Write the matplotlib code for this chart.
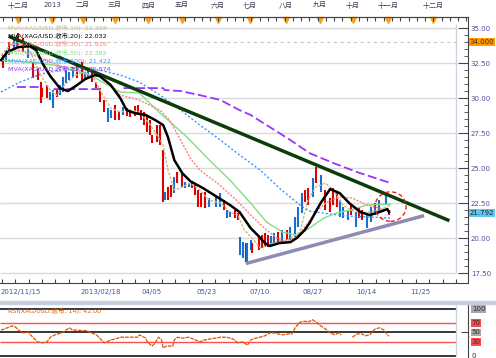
import matplotlib.pyplot as plt
import numpy as np
from matplotlib.patches import Ellipse, Rectangle
from matplotlib.transforms import blended_transform_factory

W, H = 496, 358
FONT = ['DejaVu Sans', 'Noto Sans CJK SC']
plt.rcParams['font.family'] = FONT

# ---- price bars (bar index, high, low, u=up / d=down)
bar_x = [1, 3, 5, 8, 10, 11, 14, 17, 20, 23, 25, 26, 29, 31, 33, 35, 37, 39, 41, 43,
         45, 48, 51, 53, 55, 57, 60, 62, 65, 67, 69, 72, 74, 77, 79, 81, 84, 86, 88, 90,
         92, 94, 95, 98, 100, 102, 103, 105, 107, 109, 111, 114, 116, 118, 120, 122, 124, 126, 128, 131,
         135, 138, 140, 142, 144, 147, 149, 150, 152, 154, 155, 157, 158, 162, 164, 166, 168, 170, 172, 174,
         177, 180, 182, 185, 187, 189, 191, 193, 196, 198, 201, 204, 207, 209, 211, 213, 215, 218, 220, 223,
         225, 227, 230, 233, 235, 238, 242, 244]
bar_hi = [33.07, 33.43, 34.0, 34.29, 34.5, 34.64, 34.29, 33.79, 32.57, 32.14,
          31.14, 30.71, 30.93, 30.43, 30.57, 30.57, 30.93, 31.5, 32.0, 31.86,
          32.21, 32.36, 32.57, 31.86, 32.14, 31.86, 31.14, 30.71, 29.86, 29.29,
          29.14, 29.5, 29.0, 29.36, 29.29, 29.14, 29.43, 29.5, 29.14, 29.0,
          28.79, 28.43, 27.36, 28.07, 28.07, 26.29, 23.29, 23.64, 23.79, 24.36,
          24.71, 24.64, 24.0, 23.93, 24.0, 23.79, 23.43, 23.21, 23.29, 22.86,
          22.93, 23.21, 22.71, 22.0, 21.86, 22.0, 21.79, 20.07, 19.71, 19.64,
          19.64, 19.86, 19.64, 20.07, 20.21, 20.36, 20.21, 20.14, 20.36, 20.43,
          20.57, 20.57, 20.79, 21.5, 22.21, 23.21, 23.43, 23.57, 24.29, 25.07,
          24.5, 23.43, 22.86, 23.57, 23.21, 22.71, 22.21, 22.0, 22.36, 21.86,
          22.14, 22.0, 21.64, 22.21, 22.5, 22.71, 23.07, 22.0]
bar_lo = [32.14, 32.57, 33.07, 33.43, 33.57, 33.79, 33.29, 32.86, 31.43, 31.29,
          29.64, 30.07, 30.0, 29.86, 29.29, 30.07, 30.21, 30.43, 31.07, 31.29,
          31.5, 31.43, 31.14, 31.43, 31.43, 31.14, 30.71, 29.71, 29.0, 28.29,
          28.57, 28.43, 28.43, 28.79, 28.71, 28.64, 28.71, 28.79, 28.43, 28.07,
          27.57, 27.36, 26.79, 26.86, 26.64, 22.57, 22.71, 22.71, 22.93, 23.21,
          23.93, 23.64, 23.57, 23.64, 23.57, 23.07, 22.21, 22.21, 22.14, 22.21,
          22.21, 22.21, 22.0, 21.43, 21.5, 21.43, 21.29, 18.79, 18.57, 18.29,
          18.29, 19.14, 18.93, 19.14, 19.29, 19.36, 19.36, 19.5, 19.64, 19.71,
          19.71, 19.86, 19.86, 20.07, 20.79, 21.79, 22.57, 22.36, 22.93, 23.93,
          23.29, 22.0, 21.86, 22.36, 22.21, 21.5, 21.43, 21.29, 21.64, 20.79,
          21.43, 21.29, 20.71, 21.14, 21.64, 21.86, 22.36, 21.64]
bar_dir = ("duduuddudd" "ddduuduuuu" "udduuddddu" "uddudddddd" "dddddduddu"
           "dduudddddu" "uuduudduud" "uuddddduud" "uduuuuddud" "udddduuudu" "dduuuuud")

# ---- moving averages (bar index, value)
ma10_x = [0, 6, 12, 18, 25, 31, 35, 40, 47, 53, 59, 64, 69, 75, 81, 87, 94, 98, 102, 105,
          109, 114, 119, 125, 131, 138, 144, 149, 153, 159, 163, 171, 180, 188, 193, 198, 204, 209, 215, 220,
          226, 232, 238, 245]
ma10_y = [33.07, 33.79, 34.0, 33.43, 31.64, 30.57, 30.21, 30.93, 31.64, 31.86,
          31.29, 30.21, 29.29, 29.0, 29.14, 29.0, 28.07, 27.36, 26.64, 24.86,
          23.43, 23.64, 23.93, 23.43, 22.71, 22.5, 21.86, 21.64, 20.57, 19.86,
          19.29, 19.64, 19.86, 20.43, 22.71, 23.64, 23.93, 23.43, 22.36, 22.0,
          21.79, 21.86, 22.0, 22.36]
ma20_x = [0, 4, 11, 18, 22, 26, 31, 37, 42, 47, 53, 59, 62, 69, 75, 79, 84, 91, 97, 102,
          105, 109, 114, 119, 127, 136, 144, 150, 157, 162, 166, 169, 175, 182, 186, 191, 194, 201, 207, 213,
          219, 226, 232, 238, 243, 244]
ma20_y = [32.71, 33.29, 33.64, 33.71, 33.43, 32.5, 31.57, 30.71, 30.5, 30.86,
          31.36, 31.64, 31.57, 30.93, 30.0, 29.14, 28.93, 28.79, 28.43, 28.07,
          27.21, 25.57, 24.64, 24.07, 23.57, 22.93, 22.36, 21.86, 20.71, 20.14,
          19.64, 19.43, 19.64, 19.71, 20.0, 20.57, 21.07, 22.5, 23.5, 23.21,
          22.5, 21.86, 21.64, 21.86, 22.07, 21.86]
ma30_x = [0, 12, 25, 39, 56, 65, 75, 87, 100, 106, 113, 119, 125, 136, 148, 157, 167, 177, 186, 193,
          199, 205, 213, 221, 230, 238, 245]
ma30_y = [33.07, 33.43, 32.86, 32.21, 32.14, 31.43, 30.21, 29.86, 29.14, 28.43,
          27.0, 25.71, 24.86, 23.93, 22.71, 21.64, 20.57, 19.71, 20.07, 21.07,
          22.0, 22.57, 22.93, 22.86, 22.36, 22.14, 21.93]
ma50_x = [0, 18, 37, 56, 75, 87, 100, 117, 131, 144, 157, 167, 177, 186, 194, 203, 211, 220, 230, 245]
ma50_y = [32.71, 32.57, 32.29, 31.64, 30.43, 30.36, 28.93, 27.21, 25.57, 24.14,
          22.5, 21.14, 20.43, 20.21, 20.71, 21.43, 21.79, 22.0, 22.36, 22.43]
ma100_x = [0, 12, 25, 37, 50, 62, 75, 87, 100, 113, 125, 138, 150, 163, 175, 188, 194, 207, 219, 232, 245]
ma100_y = [30.43, 31.14, 31.71, 32.0, 32.14, 32.0, 31.64, 31.14, 30.21, 29.14,
           28.07, 27.0, 25.93, 24.86, 23.57, 22.36, 21.93, 21.71, 21.57, 21.5, 21.43]
ma200_x = [10, 26, np.nan, 33, 62, np.nan, 77, 102, 103, 113, 125, 138, 150, 157, 169, 182, 194, 209, 224, 245]
ma200_y = [30.79, 30.79, np.nan, 30.64, 30.64, np.nan, 30.71, 30.71, 30.57, 30.5,
           30.21, 29.86, 29.14, 28.79, 27.93, 27.0, 26.07, 25.36, 24.71, 23.93]

# ---- drawn objects
resist_x, resist_y = [6, 281], [34.36, 21.29]
support_x, support_y = [155, 265], [18.21, 21.57]
circle_xy, circle_w, circle_h = (245, 22.25), 19.5, 2.1
last_price, marked_price = 21.792, 34.0

# ---- RSI
rsi_x = [0, 4, 7, 9, 11, 14, 17, 20, 23, 26, 29, 31, 34, 38, 40, 43, 45, 48, 51, 54,
         57, 60, 62, 65, 69, 72, 75, 79, 82, 86, 87, 91, 92, 95, 97, 99, 101, 102, 104, 108,
         109, 111, 114, 118, 121, 125, 128, 131, 135, 138, 142, 146, 149, 152, 155, 157, 160, 163, 166, 169,
         172, 174, 177, 181, 183, 185, 188, 191, 193, 196, 199, 201, 203, 205, 207, 210, 212, 214, 217, 221,
         224, 227, 229, 232, 235, 238, 241, 243, 244]
rsi_y = [55, 60, 64, 62, 55, 49, 51, 40, 30, 28, 30, 40, 45, 49, 53, 60, 55, 55, 54, 54,
         49, 45, 38, 28, 34, 36, 40, 40, 40, 40, 45, 38, 30, 21, 28, 40, 34, 17, 21, 21,
         34, 40, 38, 40, 36, 30, 34, 36, 38, 40, 40, 36, 28, 30, 23, 34, 38, 40, 43, 49,
         49, 47, 45, 47, 47, 60, 72, 74, 72, 77, 70, 64, 60, 55, 49, 45, 49, 45, np.nan, 40,
         47, 47, 43, 45, 57, 60, 55, 45, 42]

# ---- axis labels
month_pos = [10.7, 32.1, 51.6, 71.7, 92.5, 113.8, 136.5, 156.6, 179.2, 200.6, 221.4, 243.4, 271.7]
month_lab = ["十二月", "2013", "二月", "三月", "四月", "五月", "六月", "七月", "八月", "九月", "十月", "十一月", "十二月"]
date_pos = [0, 62.9, 95, 129, 163, 196, 229.6, 263.5]
date_lab = ["2012/11/15", "2013/02/18", "04/05", "05/23", "07/10", "08/27", "10/14", "11/25"]
legend_lab = ["MVA(XAG/USD.收市,10): 22.368", "MVA(XAG/USD.收市,20): 22.032",
              "MVA(XAG/USD.收市,30): 21.926", "MVA(XAG/USD.收市,50): 22.383",
              "MVA(XAG/USD.收市,100): 21.422", "MVA(XAG/USD.收市,200): 25.874"]
legend_col = ["#c8bc8c", "#000000", "#ff8080", "#80e080", "#3399ff", "#9933ff"]
rsi_title = "RSI(XAG/USD.收市, 14): 42.00"

XL = (-0.63, 293.7)
FRAME_X = 286.2
AXC = "#444444"
LABC = "#5050a0"


def box(l, t, r, b):
    return [l / W, 1 - b / H, (r - l) / W, (b - t) / H]


fig = plt.figure(figsize=(W / 100, H / 100), dpi=100)
fig.patches.append(Rectangle((0, 1 - 304 / H), 1, 3 / H, transform=fig.transFigure,
                             color="#c5d0dc", zorder=0))

ax = fig.add_axes(box(0, 17, 468, 283))
ax.set_xlim(*XL)
ax.set_ylim(16.79, 35.79)
for lv in np.arange(17.5, 35.01, 2.5):
    ax.hlines(lv, XL[0], FRAME_X, color="#dadada", lw=1, zorder=1)
ax.vlines(FRAME_X, 17.5, 35.29, color="#c8d4e0", lw=1, zorder=1)
ax.hlines(marked_price, XL[0], FRAME_X, color="#c8c8c8", lw=0.8, ls=(0, (3, 3)), zorder=1)

# bars
for x, hi, lo, d in zip(bar_x, bar_hi, bar_lo, bar_dir):
    ax.vlines(x, lo, hi, color="#1a6fd0" if d == "u" else "#e00000", lw=1.5, zorder=2)

ax.plot(ma100_x, ma100_y, color="#3399ff", lw=1, ls=(0, (1.5, 1.5)), zorder=3)
ax.plot(ma200_x, ma200_y, color="#9933ff", lw=1.3, ls=(0, (5, 2)), zorder=3)
ax.plot(ma50_x, ma50_y, color="#80e080", lw=1, zorder=3)
ax.plot(ma30_x, ma30_y, color="#ff8080", lw=1, ls=(0, (1.5, 1)), zorder=3)
ax.plot(ma10_x, ma10_y, color="#c8bc8c", lw=1, ls=(0, (2, 1)), zorder=3)
ax.plot(resist_x, resist_y, color="#0b3d0b", lw=2.5, zorder=4)
ax.plot(support_x, support_y, color="#8c8cb4", lw=2.5, zorder=4)
ax.plot(ma20_x, ma20_y, color="#000000", lw=1.8, zorder=5)
ax.add_patch(Ellipse(circle_xy, circle_w, circle_h, fill=False, ec="#ee2020", lw=1,
                     ls=(0, (3, 2)), zorder=5))

ax.spines["left"].set_visible(False)
for s in ["top", "bottom", "right"]:
    ax.spines[s].set_color(AXC)
ax.yaxis.tick_right()
ax.set_yticks(np.arange(17.5, 35.01, 2.5))
ax.set_yticks(np.arange(17.5, 35.01, 0.5), minor=True)
ax.set_yticklabels([f"{v:.2f}" for v in np.arange(17.5, 35.01, 2.5)])
ax.tick_params(axis="y", which="major", direction="in", length=7, pad=2,
               labelsize=5, labelcolor=LABC, color=AXC)
ax.tick_params(axis="y", which="minor", direction="in", length=3, color=AXC)
ax.set_xticks(np.arange(0.5, 293, 8.4))
ax.tick_params(axis="x", direction="in", length=3, labelbottom=False, color=AXC)

trb = blended_transform_factory(ax.transData, ax.transAxes)
for p, lab in zip(date_pos, date_lab):
    ax.text(p, -0.034, lab, transform=trb, fontsize=5, color=LABC,
            ha="left" if p == date_pos[0] else "center", va="center")

# top month axis
axt = ax.twiny()
axt.set_xlim(*XL)
axt.set_xticks(np.arange(1.5, 293, 5.2))
axt.tick_params(axis="x", direction="in", length=3, labeltop=False, color=AXC)
for s in ["left", "bottom", "right"]:
    axt.spines[s].set_visible(False)
axt.spines["top"].set_color(AXC)
for p, lab in zip(month_pos, month_lab):
    ax.text(p, 1.045, lab, transform=trb, fontsize=5, color="#3c3c5a", ha="center", va="center")
ax.plot(month_pos, [0.99] * len(month_pos), transform=trb, ls="none", marker="v",
        ms=4, color="#f5a020", clip_on=False, zorder=6)

# right side value boxes
trr = blended_transform_factory(ax.transAxes, ax.transData)
ax.text(1.004, marked_price, f"{marked_price:.3f}", transform=trr, fontsize=5, color="#333333",
        va="center", ha="left", bbox=dict(fc="#ff9900", ec="none", pad=0.6))
ax.text(1.004, last_price, f"{last_price:.3f}", transform=trr, fontsize=5, color="#222222",
        va="center", ha="left", bbox=dict(fc="#5bc8f5", ec="none", pad=0.6))

# legend texts
for i, (lab, c) in enumerate(zip(legend_lab, legend_col)):
    ax.text(0.017, 0.9586 - i * 0.0305, lab, transform=ax.transAxes, fontsize=4.6,
            color=c, ha="left", va="center", zorder=7)

# ---- RSI panel
axr = fig.add_axes(box(0, 305, 468, 358))
axr.set_xlim(*XL)
axr.set_ylim(-4.3, 108.5)
for lv in [100, 50, 0]:
    axr.hlines(lv, XL[0], FRAME_X, color="#000000", lw=1.1, zorder=1)
for lv in [70, 30]:
    axr.hlines(lv, XL[0], FRAME_X, color="#ff5050", lw=1, zorder=1)
axr.vlines(FRAME_X, 0, 108.5, color="#c8d4e0", lw=1, zorder=1)
axr.plot(rsi_x, rsi_y, color="#e05000", lw=0.9, ls=(0, (3, 0.8)), zorder=3)
for s in ["left", "top", "bottom"]:
    axr.spines[s].set_visible(False)
axr.spines["right"].set_color(AXC)
axr.set_xticks([])
axr.yaxis.tick_right()
axr.set_yticks([50])
axr.tick_params(axis="y", direction="in", length=5, labelright=False, color=AXC)
trr2 = blended_transform_factory(axr.transAxes, axr.transData)
for lv, fc in [(100, "#a8a8a8"), (70, "#ff4848"), (50, "#a8a8a8"), (30, "#ff4848"), (0, "none")]:
    axr.text(1.008, lv, str(lv), transform=trr2, fontsize=5, color="#333333", va="center",
             ha="left", bbox=dict(fc=fc, ec="none", pad=0.5))
axr.text(0.017, 0.887, rsi_title, transform=axr.transAxes, fontsize=4.6, color="#e05a00",
         ha="left", va="center")

fig.savefig("out.png", dpi=100)
